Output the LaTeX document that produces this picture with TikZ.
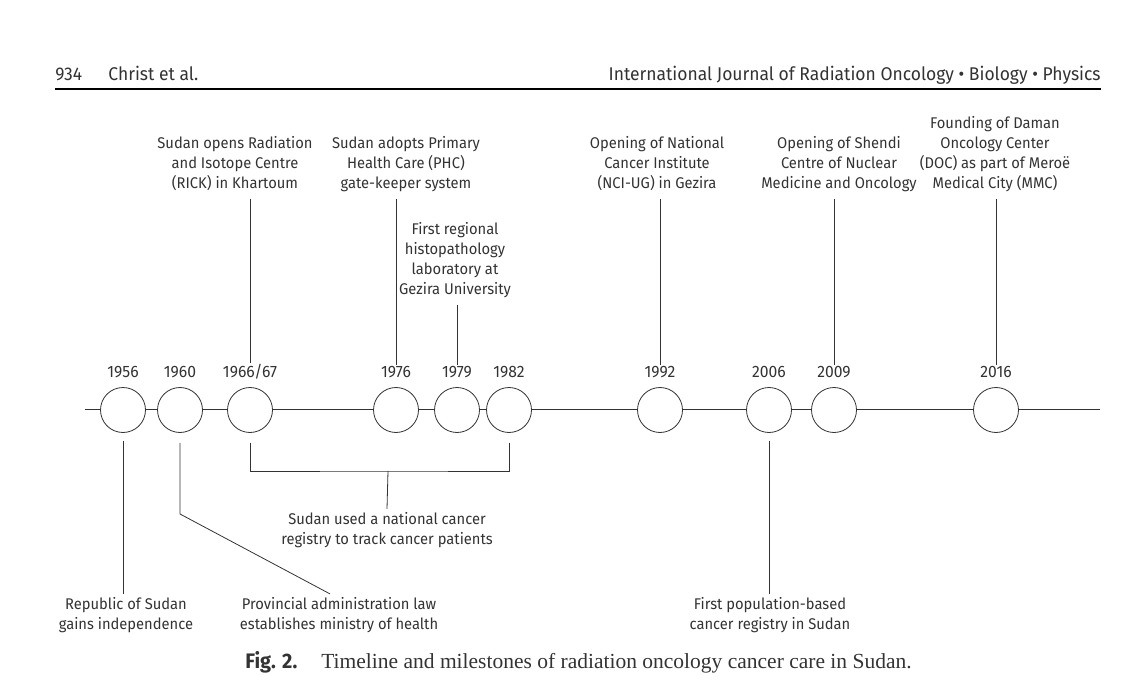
\documentclass[tikz,border=0pt]{standalone}
\usepackage{fontspec}
\setmainfont[FakeStretch=0.95]{Fira Sans}
\newfontfamily\capfont{Liberation Serif}
\usetikzlibrary{positioning}
\tikzset{
  yrdot/.style={circle, draw, fill=white, minimum size=45pt, inner sep=0pt},
  yrlabel/.style={font=\fontsize{16.5}{20}\selectfont, inner sep=1pt},
  event/.style={align=center, font=\fontsize{15.5}{20}\selectfont, inner sep=3pt},
  hdr/.style={font=\fontsize{18.4}{20}\selectfont, inner sep=0pt},
}

\begin{document}
\begin{tikzpicture}[x=1pt, y=-1pt, line width=0.8pt, black!80]
    \useasboundingbox (0,0) rectangle (1125,687);

    % Header
    \node[hdr, anchor=base west] (pgno) at (55,81) {934};
    \node[hdr, anchor=base west] (auth) at (108,81) {Christ et al.};
    \node[hdr, anchor=base east] (jrnl) at (1101,81) {International Journal of Radiation Oncology • Biology • Physics};
    \coordinate (rulel) at (55,89);
    \coordinate (ruler) at (1101,89);
    \draw[line width=1.8pt, black] (rulel) -- (ruler);

    % Timeline
    \coordinate (tlstart) at (85,409);
    \coordinate (tlend) at (1100,409);
    \draw (tlstart) -- (tlend);

    % Circles and years
    \foreach \yr/\x/\txt in {56/123/1956, 60/180/1960, 66/250/{1966/67}, 76/396/1976,
        79/457/1979, 82/509/1982, 92/660/1992, 06/769/2006, 09/834/2009, 16/996/2016} {
        \node[yrdot] (c\yr) at (\x,410) {};
        \node[yrlabel] (y\yr) at (\x,372) {\txt};
    }

    % Events above
    \node[event] (e66) at (235,164) {Sudan opens Radiation\\and Isotope Centre\\(RICK) in Khartoum};
    \node[event] (e76) at (406,164) {Sudan adopts Primary\\Health Care (PHC)\\gate-keeper system};
    \node[event] (e79) at (455,260) {First regional\\histopathology\\laboratory at\\Gezira University};
    \node[event] (e92) at (657,164) {Opening of National\\Cancer Institute\\(NCI-UG) in Gezira};
    \node[event] (e09) at (839,164) {Opening of Shendi\\Centre of Nuclear\\Medicine and Oncology};
    \node[event] (e16) at (995,154) {Founding of Daman\\Oncology Center\\(DOC) as part of Meroë\\Medical City (MMC)};

    \foreach \yr in {66,76,79,92,09,16}
        \draw[shorten <=4pt] (e\yr.south -| c\yr) -- (y\yr.north);

    % Events below
    \node[event] (e56) at (126,615) {Republic of Sudan\\gains independence};
    \node[event] (e60) at (339,615) {Provincial administration law\\establishes ministry of health};
    \node[event] (e06) at (770,615) {First population-based\\cancer registry in Sudan};
    \node[event] (ereg) at (387,530) {Sudan used a national cancer\\registry to track cancer patients};

    \draw[shorten <=8pt] (c56.south) -- (e56.north -| c56);
    \draw[shorten <=8pt] (c06.south) -- (e06.north -| c06);
    \coordinate (bend60) at (180,514);
    \draw[shorten <=10pt] (c60.south) -- (bend60) -- ([xshift=-9pt]e60.north);

    % Registry bracket
    \coordinate (brk) at (388,471);
    \draw ([yshift=-10pt]c66.south) |- (brk) -| ([yshift=-10pt]c82.south);
    \draw (brk) -- (ereg.north);

    % Caption
    \node[anchor=base west, inner sep=0pt] (cap) at (245,668)
        {\fontsize{21}{22}\selectfont\bfseries Fig. 2.\hspace{24pt}{\capfont\mdseries\fontsize{21.5}{24}\selectfont Timeline and milestones of radiation oncology cancer care in Sudan.}};
\end{tikzpicture}
\end{document}
